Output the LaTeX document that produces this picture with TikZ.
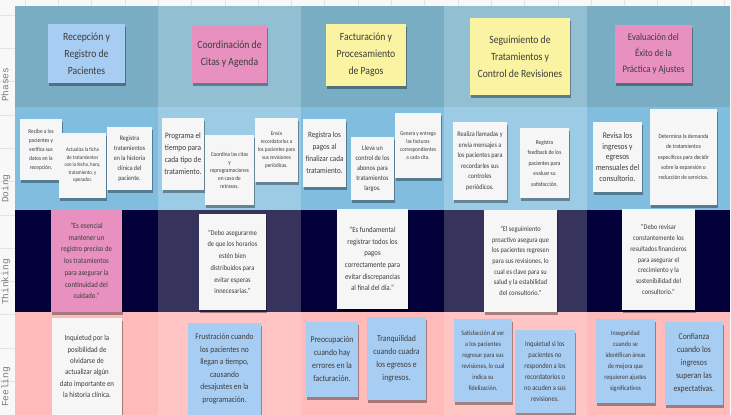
\documentclass[tikz,border=0pt]{standalone}
\usepackage{fontspec}
\setmainfont{Carlito}[FakeStretch=0.88]
\newfontfamily\lanefont{Liberation Mono}
\usetikzlibrary{shadows}
\definecolor{phA}{HTML}{78ADC4}
\definecolor{phB}{HTML}{92BFD1}
\definecolor{doA}{HTML}{80BDDF}
\definecolor{doB}{HTML}{9BCBE5}
\definecolor{thA}{HTML}{04003A}
\definecolor{thB}{HTML}{36335D}
\definecolor{feA}{HTML}{FFBABA}
\definecolor{feB}{HTML}{FFC5C5}
\definecolor{nblue}{HTML}{A8CDF3}
\definecolor{npink}{HTML}{E891C0}
\definecolor{nyellow}{HTML}{FAF4A2}
\definecolor{nwhite}{HTML}{F6F6F6}
\definecolor{ntext}{HTML}{3C3C3C}
\definecolor{margin}{HTML}{F8F8F8}
\definecolor{gridc}{HTML}{E4E4E4}
\definecolor{lanetext}{HTML}{7A7A7A}
\newcommand\nfs[2]{\fontsize{#1}{#2}\selectfont}
\newcommand\stickynote[7]{\node[sticky,#6,minimum width={(#4-#2)*1pt},minimum height={(#5-#3)*1pt}] (#1) at ({(#2+#4)/2},{(#3+#5)/2}) {#7};}
\tikzset{
  sticky/.style={draw=none,inner sep=1pt,align=center,text=ntext,
    drop shadow={shadow xshift=0.5pt,shadow yshift=-3pt,opacity=0.35,fill=black}},
  lanelabel/.style={rotate=90,anchor=base west,inner sep=0pt,text=lanetext,font=\lanefont\fontsize{9.5}{10}\selectfont},
  gridline/.style={gridc,line width=0.5pt}
}
\begin{document}
\begin{tikzpicture}[x=1pt,y=-1pt]
\useasboundingbox (0,0) rectangle (731,415);
\fill[margin] (0,0) rectangle (731,415);
\foreach \g in {15,48.3,81.6,114.9,148.2,181.5,214.8,248.1,281.4,314.7,348,381.3}{
  \draw[gridline] (0,\g) -- (15,\g);}
\foreach \g in {25,58.3,91.6,124.9,158.2,191.5,224.8,258.1,291.4,324.7,358,391.3,424.6,457.9,491.2,524.5,557.8,591.1,624.4,657.7,691,724.3}{
  \draw[gridline] (\g,0) -- (\g,6);}
% lanes
\foreach \c/\x in {0/15,1/158,2/301,3/444,4/587}{
  \pgfmathtruncatemacro\odd{mod(\c,2)}
  \ifnum\odd=0
    \fill[phA] (\x,6) rectangle ++(143,101);
    \fill[doA] (\x,107) rectangle ++(143,103);
    \fill[thA] (\x,210) rectangle ++(143,102);
    \fill[feA] (\x,312) rectangle ++(143,103);
  \else
    \fill[phB] (\x,6) rectangle ++(143,101);
    \fill[doB] (\x,107) rectangle ++(143,103);
    \fill[thB] (\x,210) rectangle ++(143,102);
    \fill[feB] (\x,312) rectangle ++(143,103);
  \fi
}
\node[lanelabel] (lphases) at (8.5,102) {Phases};
\node[lanelabel] (ldoing) at (8.5,203) {Doing};
\node[lanelabel] (lthinking) at (8.5,305) {Thinking};
\node[lanelabel] (lfeeling) at (8.5,407) {Feeling};
% phases
\stickynote{p1}{48}{24}{125}{83}{fill=nblue,font=\nfs{11}{17}}{Recepción y\\Registro de\\Pacientes}
\stickynote{p2}{192}{25}{267}{83}{fill=npink,font=\nfs{11}{17}}{Coordinación de\\Citas y Agenda}
\stickynote{p3}{326}{24}{406}{86}{fill=nyellow,font=\nfs{11}{17}}{Facturación y\\Procesamiento\\de Pagos}
\stickynote{p4}{470}{18}{570}{95}{fill=nyellow,font=\nfs{11}{17}}{Seguimiento de\\Tratamientos y\\Control de Revisiones}
\stickynote{p5}{615}{25}{692}{83}{fill=npink,font=\nfs{10}{16}}{Evaluación del\\Éxito de la\\Práctica y Ajustes}
% doing
\stickynote{d1}{20}{119}{62}{180}{fill=nwhite,font=\nfs{6}{9}}{Recibe a los\\pacientes y\\verifica sus\\datos en la\\recepción.}
\stickynote{d2}{59}{133}{106}{198}{fill=nwhite,font=\nfs{5.5}{7.5}}{Actualiza la ficha\\de tratamientos\\con la fecha, hora,\\tratamiento, y\\operador.}
\stickynote{d3}{107}{127}{152}{190}{fill=nwhite,font=\nfs{6.8}{10}}{Registra\\tratamientos\\en la historia\\clínica del\\paciente.}
\stickynote{d4}{162}{118}{204}{190}{fill=nwhite,font=\nfs{8.3}{12}}{Programa el\\tiempo para\\cada tipo de\\tratamiento.}
\stickynote{d5}{205}{135}{254}{205}{fill=nwhite,font=\nfs{6}{8}}{Coordina las citas\\y\\reprogramaciones\\en caso de\\retrasos.}
\stickynote{d6}{255}{118}{298}{182}{fill=nwhite,font=\nfs{5.8}{8}}{Envía\\recordatorios a\\los pacientes para\\sus revisiones\\periódicas.}
\stickynote{d7}{303}{119}{346}{187}{fill=nwhite,font=\nfs{8.1}{12}}{Registra los\\pagos al\\finalizar cada\\tratamiento.}
\stickynote{d8}{351}{137}{394}{200}{fill=nwhite,font=\nfs{7}{10}}{Lleva un\\control de los\\abonos para\\tratamientos\\largos.}
\stickynote{d9}{395}{113}{441}{178}{fill=nwhite,font=\nfs{5.8}{8}}{Genera y entrega\\las facturas\\correspondientes\\a cada cita.}
\stickynote{d10}{453}{122}{507}{200}{fill=nwhite,font=\nfs{7}{10.5}}{Realiza llamadas y\\envía mensajes a\\los pacientes para\\recordarles sus\\controles\\periódicos.}
\stickynote{d11}{520}{128}{569}{198}{fill=nwhite,font=\nfs{6.1}{10.5}}{Registra\\feedback de los\\pacientes para\\evaluar su\\satisfacción.}
\stickynote{d12}{593}{122}{642}{192}{fill=nwhite,font=\nfs{8.5}{10.8}}{Revisa los\\ingresos y\\egresos\\mensuales del\\consultorio.}
\stickynote{d13}{650}{109}{717}{205}{fill=nwhite,font=\nfs{6.1}{10.2}}{Determina la demanda\\de tratamientos\\específicos para decidir\\sobre la expansión o\\reducción de servicios.}
% thinking
\stickynote{t1}{51}{210}{122}{312}{fill=npink,font=\nfs{7.7}{11.7}}{"Es esencial\\mantener un\\registro preciso de\\los tratamientos\\para asegurar la\\continuidad del\\cuidado."}
\stickynote{t2}{199}{214}{266}{310}{fill=nwhite,font=\nfs{7.3}{11.7}}{"Debo asegurarme\\de que los horarios\\estén bien\\distribuidos para\\evitar esperas\\innecesarias."}
\stickynote{t3}{337}{209}{408}{309}{fill=nwhite,font=\nfs{7.8}{11.7}}{"Es fundamental\\registrar todos los\\pagos\\correctamente para\\evitar discrepancias\\al final del día."}
\stickynote{t4}{484}{210}{557}{312}{fill=nwhite,font=\nfs{7.2}{10.6}}{"El seguimiento\\proactivo asegura que\\los pacientes regresen\\para sus revisiones, lo\\cual es clave para su\\salud y la estabilidad\\del consultorio."}
\stickynote{t5}{622}{209}{695}{310}{fill=nwhite,font=\nfs{7.2}{10.7}}{"Debo revisar\\constantemente los\\resultados financieros\\para asegurar el\\crecimiento y la\\sostenibilidad del\\consultorio."}
% feeling
\stickynote{f1}{52}{318}{122}{415}{fill=nwhite,font=\nfs{7.8}{11.4}}{Inquietud por la\\posibilidad de\\olvidarse de\\actualizar algún\\dato importante en\\la historia clínica.}
\stickynote{f2}{188}{323}{261}{415}{fill=nblue,font=\nfs{8.5}{12.5}}{Frustración cuando\\los pacientes no\\llegan a tiempo,\\causando\\desajustes en la\\programación.}
\stickynote{f3}{306}{322}{358}{397}{fill=nblue,font=\nfs{8.8}{13}}{Preocupación\\cuando hay\\errores en la\\facturación.}
\stickynote{f4}{367}{317}{426}{400}{fill=nblue,font=\nfs{8.8}{13}}{Tranquilidad\\cuando cuadra\\los egresos e\\ingresos.}
\stickynote{f5}{454}{319}{512}{402}{fill=nblue,font=\nfs{6.8}{11}}{Satisfacción al ver\\a los pacientes\\regresar para sus\\revisiones, lo cual\\indica su\\fidelización.}
\stickynote{f6}{515}{330}{575}{413}{fill=nblue,font=\nfs{7.3}{11}}{Inquietud si los\\pacientes no\\responden a los\\recordatorios o\\no acuden a sus\\revisiones.}
\stickynote{f7}{596}{319}{655}{403}{fill=nblue,font=\nfs{6.8}{11}}{Inseguridad\\cuando se\\identifican áreas\\de mejora que\\requieren ajustes\\significativos}
\stickynote{f8}{665}{322}{723}{405}{fill=nblue,font=\nfs{8.8}{13}}{Confianza\\cuando los\\ingresos\\superan las\\expectativas.}
\end{tikzpicture}
\end{document}
